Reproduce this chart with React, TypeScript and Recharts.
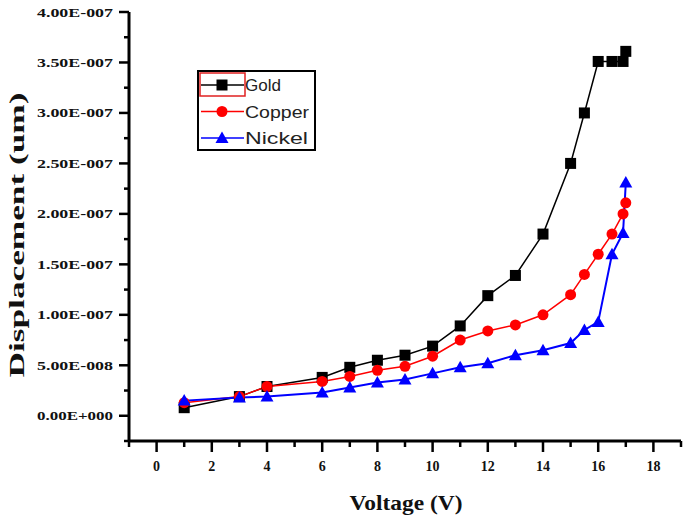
import { LineChart, Line, XAxis, YAxis } from 'recharts'

// voltage (V) and displacement, displacement in units of 1e-7
const voltage = [1, 3, 4, 6, 7, 8, 9, 10, 11, 12, 13, 14, 15, 15.5, 16, 16.5, 16.9, 17]
const gold = [0.08, 0.19, 0.29, 0.38, 0.48, 0.55, 0.6, 0.69, 0.89, 1.19, 1.39, 1.8, 2.5, 3.0, 3.51, 3.51, 3.51, 3.61]
const copper = [0.13, 0.19, 0.29, 0.34, 0.39, 0.45, 0.49, 0.59, 0.75, 0.84, 0.9, 1.0, 1.2, 1.4, 1.6, 1.8, 2.0, 2.11]
const nickel = [0.15, 0.18, 0.19, 0.23, 0.28, 0.33, 0.36, 0.42, 0.48, 0.52, 0.6, 0.65, 0.72, 0.85, 0.93, 1.6, 1.81, 2.31]

const seriesNames = ['Gold', 'Copper', 'Nickel']
const seriesColors = ['#000000', '#ff0000', '#0000ff']

const xTicks = [-1, 0, 1, 2, 3, 4, 5, 6, 7, 8, 9, 10, 11, 12, 13, 14, 15, 16, 17, 18, 19]
const xLabels = [0, 2, 4, 6, 8, 10, 12, 14, 16, 18]
const topTicks = [1, 3, 5, 7, 9, 11, 13, 15, 17]
const yTicks = [-0.25, 0, 0.25, 0.5, 0.75, 1, 1.25, 1.5, 1.75, 2, 2.25, 2.5, 2.75, 3, 3.25, 3.5, 3.75, 4]
const yLabels = [0, 0.5, 1, 1.5, 2, 2.5, 3, 3.5, 4]

const chartData = voltage.map((v, i) => ({
  v,
  gold: gold[i],
  copper: copper[i],
  nickel: nickel[i],
}))

const serif = '"Liberation Serif", "Times New Roman", serif'
const sans = '"Liberation Sans", Arial, sans-serif'

function sci(v: number) {
  if (v === 0) return '0.00E+000'
  if (v < 1) return (v * 10).toFixed(2) + 'E-008'
  return v.toFixed(2) + 'E-007'
}

function BottomTick(props: any) {
  const { x, y, payload } = props
  const major = xLabels.includes(payload.value)
  return (
    <g>
      <line x1={x} x2={x} y1={y} y2={y + (major ? 11 : 6)} stroke="#000" strokeWidth={2.5} />
      {major && (
        <text x={x} y={y + 30} textAnchor="middle" fontFamily={serif} fontWeight="bold" fontSize={14} fill="#111">
          {payload.value}
        </text>
      )}
    </g>
  )
}

function TopTick(props: any) {
  const { x, y } = props
  return <line x1={x} x2={x} y1={y} y2={y + 5} stroke="#000" strokeWidth={2.5} />
}

function LeftTick(props: any) {
  const { x, y, payload } = props
  const major = yLabels.includes(payload.value)
  return (
    <g>
      <line x1={x - (major ? 10 : 5)} x2={x} y1={y} y2={y} stroke="#000" strokeWidth={2.5} />
      {major && (
        <text
          x={x - 16}
          y={y + 4.5}
          textAnchor="end"
          fontFamily={serif}
          fontWeight="bold"
          fontSize={13}
          fill="#111"
          textLength={76}
          lengthAdjust="spacingAndGlyphs"
        >
          {sci(payload.value)}
        </text>
      )}
    </g>
  )
}

function XTitle() {
  return (
    <text x={406} y={510} textAnchor="middle" fontFamily={serif} fontWeight="bold" fontSize={22} fill="#111" textLength={113} lengthAdjust="spacingAndGlyphs">
      Voltage (V)
    </text>
  )
}

function YTitle() {
  return (
    <text
      x={0}
      y={0}
      transform="translate(24, 235) rotate(-90)"
      textAnchor="middle"
      fontFamily={serif}
      fontWeight="bold"
      fontSize={22}
      fill="#111"
      textLength={285}
      lengthAdjust="spacingAndGlyphs"
    >
      Displacement (um)
    </text>
  )
}

function Square(props: any) {
  const { cx, cy, index } = props
  return <rect key={'g' + index} x={cx - 5.5} y={cy - 5.5} width={11} height={11} fill="#000" />
}

function Circle(props: any) {
  const { cx, cy, index } = props
  return <circle key={'c' + index} cx={cx} cy={cy} r={5.5} fill="#ff0000" />
}

function Triangle(props: any) {
  const { cx, cy, index } = props
  return <path key={'n' + index} d={`M${cx},${cy - 6.5} L${cx + 6.5},${cy + 5} L${cx - 6.5},${cy + 5} Z`} fill="#0000ff" />
}

const markers = [
  (cx: number, cy: number) => <rect x={cx - 5.5} y={cy - 5.5} width={11} height={11} fill="#000" />,
  (cx: number, cy: number) => <circle cx={cx} cy={cy} r={5.5} fill="#ff0000" />,
  (cx: number, cy: number) => <path d={`M${cx},${cy - 6.5} L${cx + 6.5},${cy + 5} L${cx - 6.5},${cy + 5} Z`} fill="#0000ff" />,
]
const legendTextLen = [36, 64, 63]

function LegendBox() {
  return (
    <svg width={120} height={82} style={{ position: 'absolute', left: 197, top: 70 }}>
      <rect x={1} y={1} width={117} height={79} fill="#fff" stroke="#000" strokeWidth={2} />
      <rect x={3} y={3} width={45} height={23} fill="none" stroke="#e02020" strokeWidth={1.5} />
      {seriesNames.map((name, i) => {
        const cy = 15 + i * 26.5
        return (
          <g key={name}>
            <line x1={4} x2={47} y1={cy} y2={cy} stroke={seriesColors[i]} strokeWidth={1.5} />
            {markers[i](25, cy)}
            <text x={48} y={cy + 6} fontFamily={sans} fontSize={17} fill="#222" textLength={legendTextLen[i]} lengthAdjust="spacingAndGlyphs">
              {name}
            </text>
          </g>
        )
      })}
    </svg>
  )
}

export default function App() {
  return (
    <div style={{ position: 'absolute', left: 0, top: 0, width: 685, height: 518, background: '#fff' }}>
      <LineChart width={685} height={518} data={chartData} margin={{ top: 12, right: 4, bottom: 0, left: 0 }}>
        <XAxis
          dataKey="v"
          type="number"
          domain={[-1, 19]}
          ticks={xTicks}
          interval={0}
          height={77}
          tickSize={0}
          tickMargin={0}
          tick={<BottomTick />}
          axisLine={{ stroke: '#000', strokeWidth: 3 }}
          label={<XTitle />}
        />
        <XAxis
          xAxisId="top"
          orientation="top"
          type="number"
          domain={[-1, 19]}
          ticks={topTicks}
          interval={0}
          height={0}
          tickSize={0}
          tickMargin={0}
          tick={<TopTick />}
          axisLine={{ stroke: '#000', strokeWidth: 3 }}
        />
        <YAxis
          type="number"
          domain={[-0.25, 4]}
          ticks={yTicks}
          interval={0}
          width={129}
          tickSize={0}
          tickMargin={0}
          tick={<LeftTick />}
          axisLine={{ stroke: '#000', strokeWidth: 3 }}
          label={<YTitle />}
        />
        <YAxis
          yAxisId="right"
          orientation="right"
          type="number"
          domain={[-0.25, 4]}
          width={0}
          tick={false}
          tickLine={false}
          axisLine={{ stroke: '#000', strokeWidth: 3 }}
        />
        <Line dataKey="gold" stroke="#000" strokeWidth={1.5} dot={<Square />} activeDot={false} isAnimationActive={false} />
        <Line dataKey="copper" stroke="#ff0000" strokeWidth={1.5} dot={<Circle />} activeDot={false} isAnimationActive={false} />
        <Line dataKey="nickel" stroke="#0000ff" strokeWidth={2} dot={<Triangle />} activeDot={false} isAnimationActive={false} />
      </LineChart>
      <LegendBox />
    </div>
  )
}
